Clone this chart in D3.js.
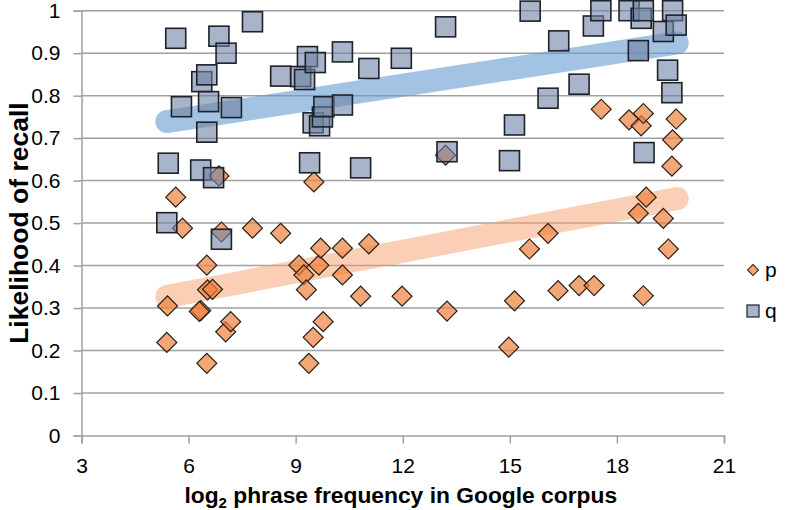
<!DOCTYPE html>
<html><head><meta charset="utf-8">
<script src="https://cdn.jsdelivr.net/npm/d3@7"></script>
<style>
html,body{margin:0;padding:0;background:#fff;}
svg{display:block;font-family:"Liberation Sans",Arial,sans-serif;}
</style></head>
<body>
<svg id="c" width="800" height="510"></svg>
<script>
// Series p (diamonds): [log2 frequency, likelihood]
const pX = [5.41,5.39,5.64,5.83,6.34,6.30,6.51,6.51,6.53,6.67,6.85,6.92,7.04,7.18,7.79,8.58,9.09,9.23,9.30,9.37,9.49,9.51,9.65,9.70,9.77,10.31,10.31,10.82,11.05,11.98,13.20,13.24,14.97,15.13,15.55,16.07,16.35,16.94,17.36,17.56,18.34,18.60,18.68,18.74,18.74,18.82,19.30,19.44,19.54,19.56,19.66];
const pY = [0.305,0.219,0.561,0.488,0.294,0.292,0.170,0.401,0.343,0.344,0.611,0.479,0.244,0.268,0.488,0.476,0.401,0.378,0.343,0.170,0.231,0.597,0.401,0.441,0.268,0.441,0.378,0.328,0.451,0.328,0.660,0.293,0.208,0.317,0.439,0.476,0.341,0.353,0.353,0.768,0.743,0.523,0.729,0.758,0.329,0.561,0.511,0.439,0.634,0.696,0.745];
// Series q (squares)
const qX = [5.43,5.39,5.64,5.80,6.34,6.37,6.51,6.51,6.56,6.70,6.85,6.92,7.05,7.20,7.79,8.58,9.14,9.33,9.25,9.55,9.39,9.49,9.67,9.75,9.79,10.31,10.31,10.82,11.05,11.96,13.20,13.24,14.99,15.13,15.57,16.07,16.37,16.94,17.34,17.55,18.34,18.60,18.68,18.74,18.76,19.30,19.42,19.54,19.56,19.66];
const qY = [0.641,0.501,0.935,0.774,0.625,0.833,0.849,0.714,0.786,0.607,0.940,0.462,0.900,0.772,0.974,0.846,0.845,0.892,0.838,0.878,0.642,0.736,0.729,0.750,0.774,0.778,0.903,0.630,0.864,0.888,0.962,0.668,0.647,0.731,0.999,0.794,0.929,0.827,0.964,1.0,1.0,0.906,0.982,1.0,0.666,0.951,0.860,0.807,1.0,0.966];
// Trend lines: [x0, x1], [y0, y1]
const trendX = [5.39, 19.69];
const pTrendY = [0.327, 0.558];
const qTrendY = [0.739, 0.924];
const xTicks = [3,6,9,12,15,18,21];
const yTicks = [0,0.1,0.2,0.3,0.4,0.5,0.6,0.7,0.8,0.9,1];
const seriesNames = ["p","q"];

const svg = d3.select("#c");
const x = d3.scaleLinear().domain([3,21]).range([81.5,724]);
const y = d3.scaleLinear().domain([0,1]).range([435.5,10.7]);

// gridlines
svg.append("g").selectAll("line").data(yTicks.slice(1)).join("line")
  .attr("x1",x(3)).attr("x2",x(21))
  .attr("y1",d=>y(d)).attr("y2",d=>y(d))
  .attr("stroke","#a0a0a0").attr("stroke-width",1.5);

// x axis
const xAxis = d3.axisBottom(x).tickValues(xTicks).tickSize(8).tickPadding(15).tickFormat(d3.format("d"));
const gx = svg.append("g").attr("transform",`translate(0,${y(0)})`).call(xAxis);
gx.select(".domain").attr("stroke","#a0a0a0").attr("stroke-width",1.5);
gx.selectAll(".tick line").attr("stroke","#a0a0a0").attr("stroke-width",1.5);
gx.selectAll(".tick text").attr("font-size",21).attr("fill","#000").attr("font-family","Liberation Sans, Arial, sans-serif");

// y axis
const yAxis = d3.axisLeft(y).tickValues(yTicks).tickSize(8).tickPadding(13).tickFormat(d=>d===0||d===1?String(d):d3.format(".1f")(d));
const gy = svg.append("g").attr("transform",`translate(${x(3)},0)`).call(yAxis);
gy.select(".domain").attr("stroke","#a0a0a0").attr("stroke-width",1.5);
gy.selectAll(".tick line").attr("stroke","#a0a0a0").attr("stroke-width",1.5);
gy.selectAll(".tick text").attr("font-size",21).attr("fill","#000").attr("font-family","Liberation Sans, Arial, sans-serif");

// trend bands
const line = d3.line().x(d=>x(d[0])).y(d=>y(d[1]));
svg.append("path").datum(trendX.map((v,i)=>[v,pTrendY[i]])).attr("d",line)
  .attr("fill","none").attr("stroke","rgb(245,160,110)").attr("stroke-opacity",0.5)
  .attr("stroke-width",23).attr("stroke-linecap","round");
svg.append("path").datum(trendX.map((v,i)=>[v,qTrendY[i]])).attr("d",line)
  .attr("fill","none").attr("stroke","rgb(100,155,210)").attr("stroke-opacity",0.6)
  .attr("stroke-width",23).attr("stroke-linecap","round");

// p diamonds
const dSym = d3.symbol().type(d3.symbolSquare).size(200);
svg.append("g").selectAll("path").data(pX.map((v,i)=>[v,pY[i]])).join("path")
  .attr("d",dSym)
  .attr("transform",d=>`translate(${x(d[0])},${y(d[1])}) rotate(45)`)
  .attr("fill","rgb(240,130,60)").attr("fill-opacity",0.7)
  .attr("stroke","#2a2018").attr("stroke-width",1.2);

// q squares
svg.append("g").selectAll("rect").data(qX.map((v,i)=>[v,qY[i]])).join("rect")
  .attr("x",d=>x(d[0])-10).attr("y",d=>y(d[1])-10)
  .attr("width",20).attr("height",20)
  .attr("fill","rgb(110,130,165)").attr("fill-opacity",0.6)
  .attr("stroke","#1e2228").attr("stroke-width",1.6);

// axis titles
const xt = svg.append("text").attr("x",(x(3)+x(21))/2 - 2).attr("y",503)
  .attr("text-anchor","middle").attr("font-size",22.8).attr("font-weight","bold");
xt.append("tspan").text("log");
xt.append("tspan").attr("font-size",15).attr("dy",5).text("2");
xt.append("tspan").attr("dy",-5).text(" phrase frequency in Google corpus");

svg.append("text").attr("transform",`translate(28,${(y(0)+y(1))/2}) rotate(-90)`)
  .attr("text-anchor","middle").attr("font-size",26.5).attr("font-weight","bold")
  .text("Likelihood of recall");

// legend
const lg = svg.append("g");
const legY = [270, 311];
lg.append("path").attr("d",d3.symbol().type(d3.symbolSquare).size(60))
  .attr("transform",`translate(753,${legY[0]}) rotate(45)`)
  .attr("fill","rgb(240,130,60)").attr("fill-opacity",0.7).attr("stroke","#2a2018").attr("stroke-width",1);
lg.append("rect").attr("x",747).attr("y",legY[1]-6).attr("width",12).attr("height",12)
  .attr("fill","rgb(110,130,165)").attr("fill-opacity",0.6).attr("stroke","#1e2228").attr("stroke-width",1.2);
lg.selectAll("text").data(seriesNames).join("text")
  .attr("x",765).attr("y",(d,i)=>legY[i]+7).attr("font-size",21).text(d=>d);
</script>
</body></html>
